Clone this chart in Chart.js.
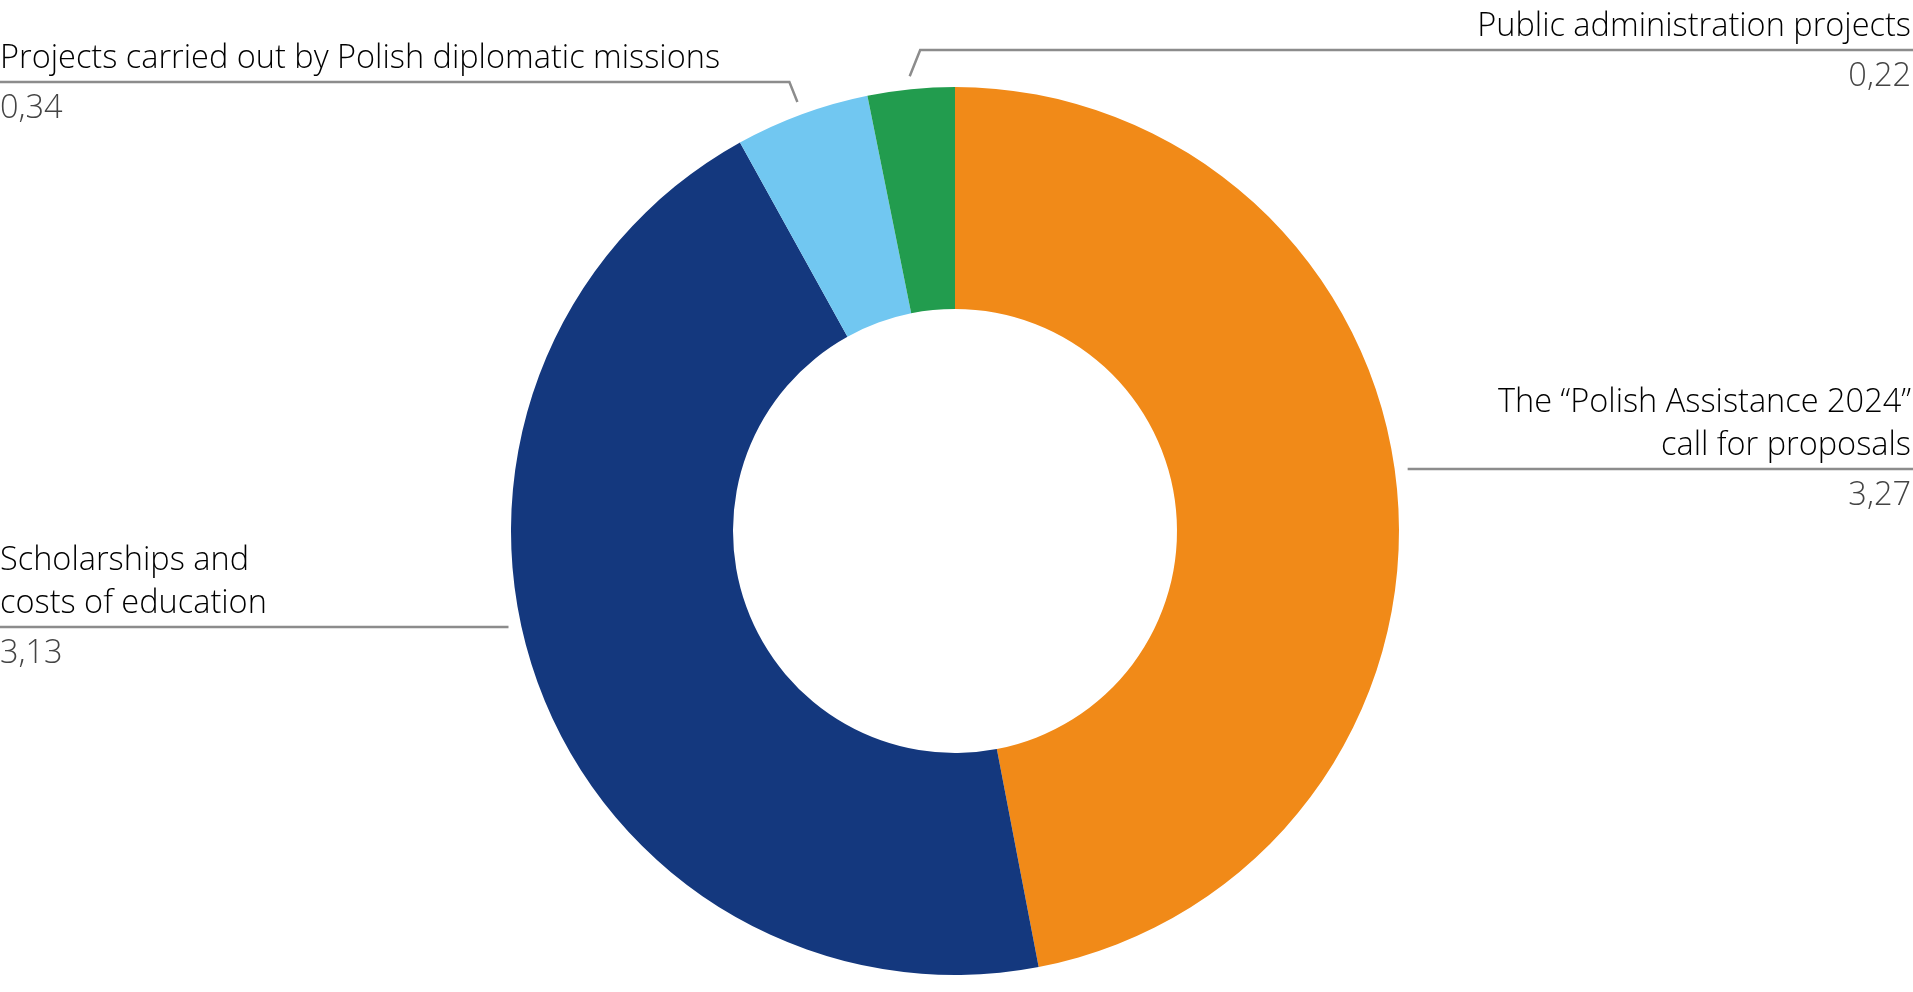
<!DOCTYPE html>
<html lang="en">
  <head>
    <meta charset="UTF-8" />
    <title>Polish Aid 2024</title>
    <script src="https://cdn.jsdelivr.net/npm/chart.js"></script>
    <style>
      * {
        margin: 0;
        padding: 0;
        box-sizing: border-box;
      }
      body {
        background: #ffffff;
        overflow: hidden;
      }
      #chartBox {
        width: 1913px;
        height: 992px;
      }
    </style>
  </head>
  <body>
    <div id="chartBox">
      <canvas id="aidChart"></canvas>
    </div>
    <script>
      // data
      const categories = [
        ["The \u201cPolish Assistance 2024\u201d", "call for proposals"],
        ["Scholarships and", "costs of education"],
        ["Projects carried out by Polish diplomatic missions"],
        ["Public administration projects"],
      ];
      const amounts = [3.27, 3.13, 0.34, 0.22];
      const colors = ["#f18a18", "#14387e", "#71c7f1", "#229c4e"];

      // where each callout sits: side of the page, y of its rule, and
      // whether it hangs off the top of the ring with a short elbow
      const callouts = [
        { side: "right", lineY: 469, elbow: false },
        { side: "left", lineY: 627, elbow: false },
        { side: "left", lineY: 82, elbow: true },
        { side: "right", lineY: 50, elbow: true },
      ];

      const FONT = '"Open Sans", sans-serif';
      const fmt = (v) => v.toFixed(2).replace(".", ",");

      const calloutPlugin = {
        id: "callouts",
        afterDraw(chart) {
          const ctx = chart.ctx;
          const W = chart.width;
          const arcs = chart.getDatasetMeta(0).data;
          ctx.save();
          arcs.forEach((arc, i) => {
            const c = callouts[i];
            const { x, y, outerRadius, startAngle, endAngle } = arc.getProps(
              ["x", "y", "outerRadius", "startAngle", "endAngle"],
              true
            );
            const mid = (startAngle + endAngle) / 2;
            const gap = 13;
            const dir = c.side === "right" ? 1 : -1;

            ctx.strokeStyle = "#8c8c8c";
            ctx.lineWidth = 2.5;
            ctx.beginPath();
            if (c.elbow) {
              const sx = x + Math.cos(mid) * (outerRadius + gap);
              const sy = y + Math.sin(mid) * (outerRadius + gap);
              const ex = sx + dir * (sy - c.lineY) * 0.4;
              ctx.moveTo(sx, sy);
              ctx.lineTo(ex, c.lineY);
              ctx.lineTo(dir > 0 ? W : 0, c.lineY);
            } else {
              const dy = c.lineY - y;
              const edge = Math.sqrt(Math.max(outerRadius * outerRadius - dy * dy, 0));
              const sx = x + dir * (edge + gap);
              ctx.moveTo(sx, c.lineY);
              ctx.lineTo(dir > 0 ? W : 0, c.lineY);
            }
            ctx.stroke();

            // title lines above the rule, value below it
            const tx = dir > 0 ? W - 2 : 0;
            ctx.textAlign = dir > 0 ? "right" : "left";
            ctx.textBaseline = "alphabetic";
            ctx.font = "300 32.5px " + FONT;
            ctx.fillStyle = "#000000";
            const lines = categories[i];
            lines.forEach((t, k) => {
              const by = c.lineY - 14 - (lines.length - 1 - k) * 43;
              ctx.fillText(t, tx, by);
            });
            ctx.fillStyle = "#444444";
            ctx.fillText(fmt(amounts[i]), tx, c.lineY + 36);
          });
          ctx.restore();
        },
      };

      new Chart(document.getElementById("aidChart"), {
        type: "doughnut",
        data: {
          labels: categories.map((l) => l.join(" ")),
          datasets: [
            {
              data: amounts,
              backgroundColor: colors,
              borderWidth: 0,
            },
          ],
        },
        options: {
          responsive: true,
          maintainAspectRatio: false,
          animation: false,
          cutout: "50%",
          layout: {
            padding: { top: 87, bottom: 17, left: 511, right: 514 },
          },
          plugins: {
            legend: { display: false },
            tooltip: { enabled: false },
          },
        },
        plugins: [calloutPlugin],
      });
    </script>
  </body>
</html>
